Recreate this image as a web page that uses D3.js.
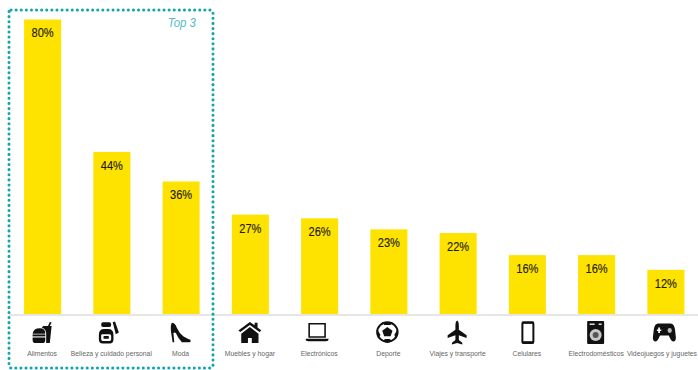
<!DOCTYPE html>
<html lang="es">
<head>
<meta charset="utf-8">
<script src="https://cdnjs.cloudflare.com/ajax/libs/d3/7.8.5/d3.min.js"></script>
<style>
  html, body { margin: 0; padding: 0; background: #fff; }
  svg { display: block; }
  text { font-family: "Liberation Sans", sans-serif; }
</style>
</head>
<body>
<svg id="chart" width="698" height="370"></svg>
<script>
const categories = ["Alimentos", "Belleza y cuidado personal", "Moda", "Muebles y hogar", "Electrónicos",
  "Deporte", "Viajes y transporte", "Celulares", "Electrodomésticos", "Videojuegos y juguetes"];
const shares = [80, 44, 36, 27, 26, 23, 22, 16, 16, 12];
const iconKeys = ["food", "beauty", "heel", "home", "laptop", "ball", "plane", "phone", "washer", "gamepad"];
const highlightLabel = "Top 3";

const svg = d3.select("#chart");
const baseline = 314;
const ink = "#111";

const x = d3.scaleBand().domain(categories).range([8.5, 700]).paddingInner(0.465).paddingOuter(0.225);
const y = d3.scaleLinear().domain([0, 80]).range([baseline, 19.5]);
const centre = d => x(d) + x.bandwidth() / 2;

// Squeezes a text selection horizontally about its anchor to give the face a condensed look
function condense(selection, factor) {
  selection.each(function () {
    const ax = +this.getAttribute("x");
    this.setAttribute("transform", `translate(${ax},0) scale(${factor},1) translate(${-ax},0)`);
  });
}

// Bars
svg.selectAll("rect.bar").data(categories).join("rect")
  .attr("class", "bar")
  .attr("x", d => x(d))
  .attr("width", x.bandwidth())
  .attr("y", (d, i) => y(shares[i]))
  .attr("height", (d, i) => baseline - y(shares[i]))
  .attr("fill", "#ffe300");

// Value labels
svg.selectAll("text.value").data(categories).join("text")
  .attr("class", "value")
  .attr("x", centre)
  .attr("y", (d, i) => y(shares[i]) + 18)
  .attr("text-anchor", "middle")
  .attr("font-size", 13.5)
  .attr("fill", "#1c1c10")
  .attr("stroke", "#1c1c10")
  .attr("stroke-width", 0.15)
  .text((d, i) => shares[i] + "%")
  .call(condense, 0.82);

// Baseline
svg.append("line").attr("x1", 9).attr("x2", 698).attr("y1", baseline + 1).attr("y2", baseline + 1)
  .attr("stroke", "#dedede").attr("stroke-width", 1.5);

// Category labels; the last one is pulled in so it stays inside the page
svg.selectAll("text.cat").data(categories).join("text")
  .attr("class", "cat")
  .attr("x", (d, i) => i === categories.length - 1 ? 697 : centre(d) - 0.5)
  .attr("y", 356)
  .attr("text-anchor", (d, i) => i === categories.length - 1 ? "end" : "middle")
  .attr("font-size", 8)
  .attr("fill", "#666")
  .text(d => d)
  .call(condense, 0.85);

// Icon glyphs, each drawn in its own units and then fitted by the iconBox sizes
const icons = {
  food: g => {
    g.append("path").attr("d", "M-11,-1 Q-10,-8 -3,-8 Q3,-8 3,-1Z");
    g.append("rect").attr("x", -11).attr("y", 0).attr("width", 14).attr("height", 2.5);
    g.append("path").attr("d", "M-11,4 H3 V7 Q3,11 0,11 H-8 Q-11,11 -11,7Z");
    g.append("path").attr("d", "M-1,-9 L1,-11 H10 L8,11 H4 V-2 Q3,-8 -1,-9Z");
    g.append("path").attr("d", "M6,-11 L8,-16 L10,-15.5 L8,-11Z");
  },
  beauty: g => {
    g.append("path").attr("d", "M-11,2 Q-11,-5 -4,-5 H1 Q8,-5 8,2 V7 Q8,12 3,12 H-6 Q-11,12 -11,7Z M-8,2 V7 Q-8,9 -6,9 H3 Q5,9 5,7 V3 Q5,1 3,1 H-6 Q-8,1 -8,2Z").attr("fill-rule", "evenodd");
    g.append("rect").attr("x", -8).attr("y", -13).attr("width", 13).attr("height", 5.5).attr("rx", 2.5);
    g.append("path").attr("d", "M7,-13 L10,-14 L15,-1 L11,1Z");
    g.append("rect").attr("x", -5).attr("y", 3).attr("width", 7).attr("height", 3.5).attr("rx", 1);
  },
  heel: g => {
    g.append("path").attr("d", "M-9,-13 Q-5,-13 -3,-7 Q0,0 5,4 Q10,7 13,8 Q14,11 12,11 H3 Q-1,7 -4,0 Q-6,-2 -7,0 L-6,11 H-8 L-10,-3 Q-11,-9 -9,-13Z");
  },
  home: g => {
    g.append("path").attr("d", "M0,-14 L5,-10 V-13 H8 V-7.5 L12,-4 L10,-2 L0,-10.5 L-10,-2 L-12,-4Z");
    g.append("path").attr("d", "M0,-8 L9,0 V11 H2 V5 H-2 V11 H-9 V0Z");
  },
  laptop: g => {
    g.append("path").attr("d", "M-9,-10 H9 V6 H-9Z").attr("fill", "none").attr("stroke", ink).attr("stroke-width", 1.8);
    g.append("path").attr("d", "M-13,8 H13 Q13,11 10,11 H-10 Q-13,11 -13,8Z");
  },
  ball: g => {
    g.append("circle").attr("r", 9.7).attr("fill", "#fff").attr("stroke", ink).attr("stroke-width", 2);
    g.append("path").attr("d", "M0,-4 L4,-1 L2.5,3.5 H-2.5 L-4,-1Z").attr("stroke", ink).attr("stroke-width", 1.5);
    g.append("path").attr("d", "M-5,-10 H5 L3,-7 H-3Z M-10,-3 L-6.5,3 L-9,6Z M10,-3 L6.5,3 L9,6Z M-5,9 L-2,7 H2 L5,9 L0,11Z");
  },
  plane: g => {
    g.append("path").attr("d", "M0,-14 Q2,-13 2,-8 V-4 L11,2 V5 L2,2 V7 L6,10 V12 L0,10.5 L-6,12 V10 L-2,7 V2 L-11,5 V2 L-2,-4 V-8 Q-2,-13 0,-14Z");
  },
  phone: g => {
    g.append("rect").attr("x", -5.5).attr("y", -11).attr("width", 11).attr("height", 22).attr("rx", 1.5)
      .attr("fill", "none").attr("stroke", ink).attr("stroke-width", 2);
    g.append("rect").attr("x", -6).attr("y", -12).attr("width", 12).attr("height", 2.5);
    g.append("rect").attr("x", -6).attr("y", 9).attr("width", 12).attr("height", 2.5);
  },
  washer: g => {
    g.append("rect").attr("x", -8.5).attr("y", -12).attr("width", 17).attr("height", 23).attr("rx", 1);
    g.append("circle").attr("cy", 2).attr("r", 6).attr("fill", "#c8c8c8");
    g.append("circle").attr("cy", 2).attr("r", 3).attr("fill", "#555");
    g.append("rect").attr("x", -6).attr("y", -9.5).attr("width", 5).attr("height", 1.5).attr("fill", "#ddd");
    g.append("rect").attr("x", 3).attr("y", -9.5).attr("width", 3).attr("height", 1.5).attr("fill", "#ddd");
  },
  gamepad: g => {
    g.append("path").attr("d", "M-7,-9 H7 Q11,-9 12,-3 L13,5 Q13,9 10,9 Q8,9 6,5 L5,3 H-5 L-6,5 Q-8,9 -10,9 Q-13,9 -13,5 L-12,-3 Q-11,-9 -7,-9Z");
    g.append("path").attr("d", "M-8.5,-3 H-7 V-5 H-5 V-3 H-3.5 V-1.5 H-5 V0.5 H-7 V-1.5 H-8.5Z").attr("fill", "#fff");
    g.append("circle").attr("cx", 6).attr("cy", -2).attr("r", 2.4).attr("fill", "#bbb");
  }
};

// Fitted width, height and horizontal nudge of each glyph under its bar
const iconBox = {
  food: [19, 21, -0.5], beauty: [20, 22, -3], heel: [20, 19.5, -0.5], home: [23, 21, -0.5],
  laptop: [23, 17.5, -2.5], ball: [21, 21, -1.5], plane: [19, 24, -1], phone: [12, 22, 0.5],
  washer: [17, 23, -1], gamepad: [23, 18, -1.5]
};

svg.selectAll("g.icon").data(categories).join("g")
  .attr("class", "icon")
  .attr("fill", ink)
  .each(function (d, i) {
    const key = iconKeys[i];
    const g = d3.select(this);
    icons[key](g);
    const b = this.getBBox();
    const [w, h, dx] = iconBox[key];
    g.attr("transform",
      `translate(${centre(d) + dx},332.5) scale(${w / b.width},${h / b.height}) translate(${-(b.x + b.width / 2)},${-(b.y + b.height / 2)})`);
  });

// Dotted frame around the leading three categories
svg.append("rect")
  .attr("x", 9).attr("y", 10).attr("width", 204).attr("height", 358)
  .attr("rx", 2)
  .attr("fill", "none")
  .attr("stroke", "#12a5ad")
  .attr("stroke-width", 3)
  .attr("stroke-linecap", "round")
  .attr("stroke-dasharray", "0.1 5");

svg.append("text")
  .attr("x", 196).attr("y", 27)
  .attr("text-anchor", "end")
  .attr("font-size", 13.5)
  .attr("font-style", "italic")
  .attr("fill", "#55bcc8")
  .text(highlightLabel)
  .call(condense, 0.85);
</script>
</body>
</html>
